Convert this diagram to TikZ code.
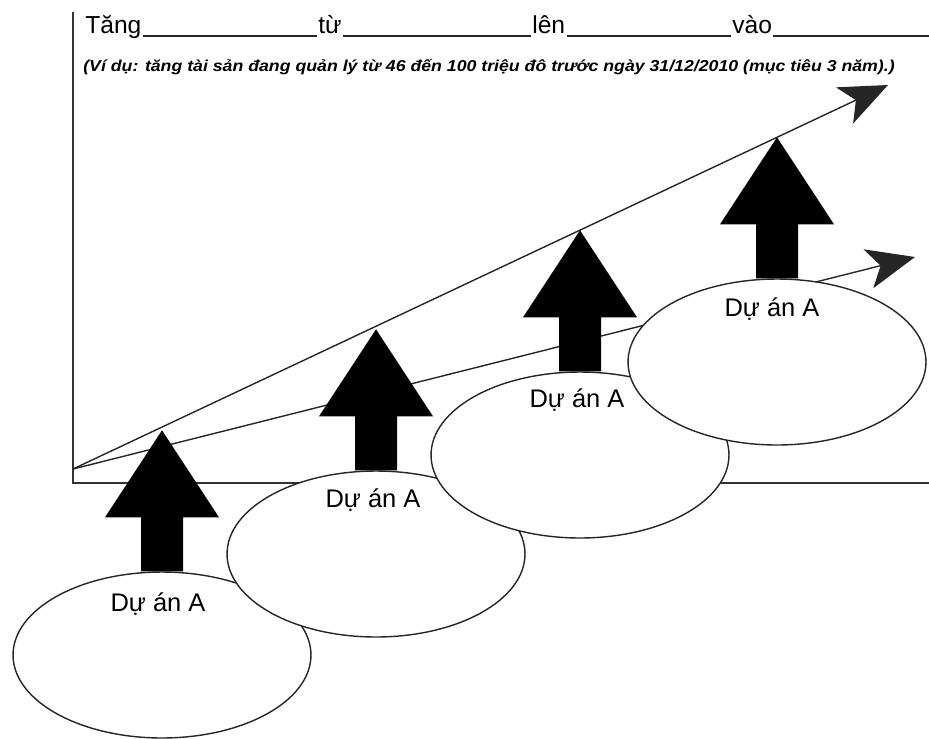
\documentclass[tikz,border=0pt]{standalone}
\usepackage{fontspec}
\setmainfont{Liberation Sans}
\usepackage{tikz}
\usetikzlibrary{arrows.meta, positioning, calc, shapes.geometric}

\begin{document}
\begin{tikzpicture}[x=0.02cm, y=-0.02cm,
      word/.style={anchor=base west, inner sep=0pt,
                   font=\fontsize{14}{16}\selectfont},
      blank/.style={line width=1.1pt, black!85},
      note/.style={anchor=base west, inner sep=0pt,
                   font=\fontsize{9}{11}\selectfont\bfseries\itshape},
      axis/.style={line width=0.8pt, black!80},
      trend/.style={line width=0.8pt, black!85,
                    -{Stealth[length=0.96cm, width=0.8cm, inset=0.25cm]}},
      proj/.style={ellipse, draw=black!85, line width=0.8pt, fill=white,
                   minimum width=5.96cm, minimum height=3.32cm, inner sep=0pt},
      lbl/.style={anchor=base, inner sep=0pt,
                  font=\fontsize{14.5}{16}\selectfont},
      projarrow/.pic={\fill (-21,0) -- (-21,-54) -- (-57,-54) -- (0,-141)
                       -- (57,-54) -- (21,-54) -- (21,0) -- cycle;}
    ]
    \useasboundingbox (0,0) rectangle (929,738);

    \node[word] (tang) at (85,33) {Tăng};
    \node[word] (tu) at (318,33) {từ};
    \node[word] (len) at (532,33) {lên};
    \node[word] (vao) at (732,33) {vào};
    \coordinate (blankend) at (929,36);
    \draw[blank] ($(tang.base east)+(1,3)$) -- ($(tu.base west)+(-1,3)$);
    \draw[blank] ($(tu.base east)+(1,3)$) -- ($(len.base west)+(-1,3)$);
    \draw[blank] ($(len.base east)+(1,3)$) -- ($(vao.base west)+(-1,3)$);
    \draw[blank] ($(vao.base east)+(1,3)$) -- (blankend);
    \node[note] (vidu) at (83,71)
      {\scalebox{1.12}[1]{(Ví dụ: tăng tài sản đang quản lý từ 46 đến 100 triệu đô trước ngày 31/12/2010 (mục tiêu 3 năm).)}};

    \coordinate (ytop) at (73,12);
    \coordinate (corner) at (73,483);
    \coordinate (xend) at (929,483);
    \draw[axis] (ytop) -- (corner) -- (xend);

    \coordinate (start) at (73,469);
    \coordinate (hitip) at (888,85);
    \coordinate (lotip) at (915,257);
    \draw[trend] (start) -- (hitip);
    \draw[trend] (start) -- (lotip);

    \node[proj] (p1) at (162,655) {};
    \pic at (p1.north) {projarrow};
    \node[lbl] (l1) at ($(p1.north)+(-4,40)$) {Dự án A};
    \node[proj] (p2) at (376,554) {};
    \pic at (p2.north) {projarrow};
    \node[lbl] (l2) at ($(p2.north)+(-3,37)$) {Dự án A};
    \node[proj] (p3) at (580,455) {};
    \pic at (p3.north) {projarrow};
    \node[lbl] (l3) at ($(p3.north)+(-3,36)$) {Dự án A};
    \node[proj] (p4) at (777,362) {};
    \pic at (p4.north) {projarrow};
    \node[lbl] (l4) at ($(p4.north)+(-5,38)$) {Dự án A};
  \end{tikzpicture}
\end{document}
